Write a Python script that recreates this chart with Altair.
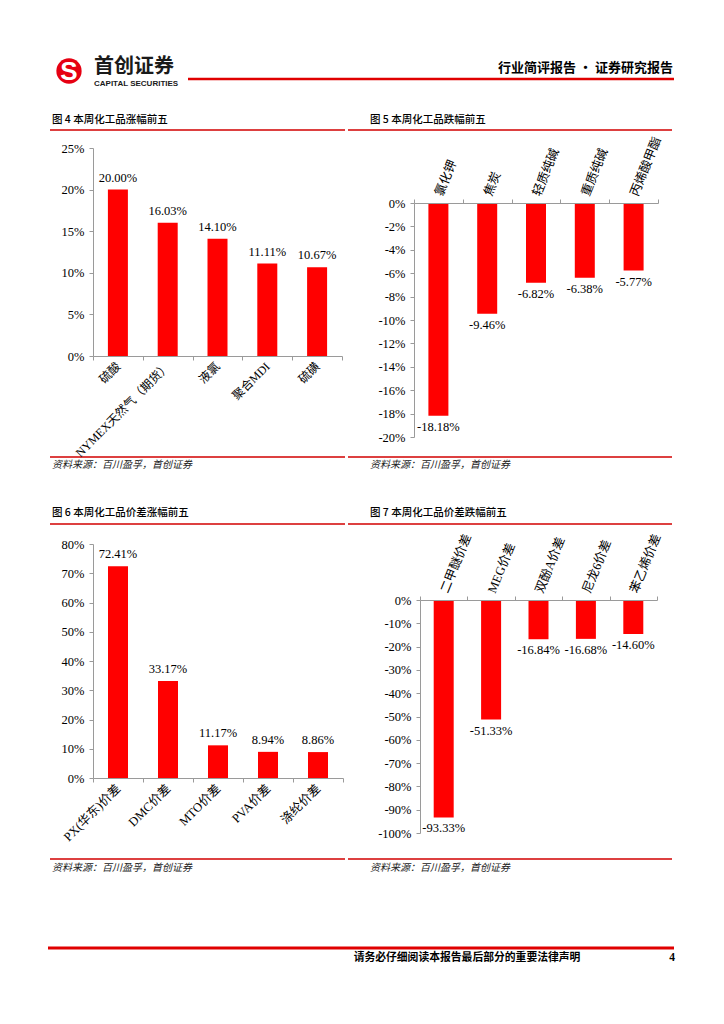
import altair as alt
import pandas as pd

# ---------------- data ----------------
up_cats = ["硫酸", "NYMEX天然气（期货）", "液氯", "聚合MDI", "硫磺"]
up_vals = [20.00, 16.03, 14.10, 11.11, 10.67]
up_ticks = [0, 5, 10, 15, 20, 25]

down_cats = ["氯化钾", "焦炭", "轻质纯碱", "重质纯碱", "丙烯酸甲酯"]
down_vals = [-18.18, -9.46, -6.82, -6.38, -5.77]
down_ticks = [0, -2, -4, -6, -8, -10, -12, -14, -16, -18, -20]

spread_up_cats = ["PX(华东)价差", "DMC价差", "MTO价差", "PVA价差", "涤纶价差"]
spread_up_vals = [72.41, 33.17, 11.17, 8.94, 8.86]
spread_up_ticks = [0, 10, 20, 30, 40, 50, 60, 70, 80]

spread_down_cats = ["二甲醚价差", "MEG价差", "双酚A价差", "尼龙6价差", "苯乙烯价差"]
spread_down_vals = [-93.33, -51.33, -16.84, -16.68, -14.60]
spread_down_ticks = [0, -10, -20, -30, -40, -50, -60, -70, -80, -90, -100]

titles = ["图 4 本周化工品涨幅前五", "图 5 本周化工品跌幅前五",
          "图 6 本周化工品价差涨幅前五", "图 7 本周化工品价差跌幅前五"]
source_text = "资料来源：百川盈孚，首创证券"
header_right = "行业简评报告 · 证券研究报告"
footer_text = "请务必仔细阅读本报告最后部分的重要法律声明"
page_no = "4"

# ---------------- styles ----------------
RED = "#FF0000"
LINE_RED = "#D20000"
AX = "#9A9A9A"
NUM_FONT = "Liberation Serif"
CAT_FONT = "Liberation Serif, Noto Sans CJK SC"
CJK = "Noto Sans CJK SC"

ORIGIN = (93, 148)  # page position of first panel's plot origin


def rel(px, py):
    return px - ORIGIN[0], py - ORIGIN[1]


def one():
    return pd.DataFrame({"k": [0]})


def text_at(txt, px, py, size, font=CJK, weight="normal", align="left",
            color="#000000", style=None):
    x, y = rel(px, py)
    kw = dict(align=align, baseline="middle", fontSize=size, font=font,
              fontWeight=weight, color=color)
    if style:
        kw["fontStyle"] = style
    return alt.Chart(pd.DataFrame({"t": [txt]})).mark_text(**kw).encode(
        x=alt.value(x), y=alt.value(y), text="t:N")


def hline(px1, px2, py, color=LINE_RED, width=1.5):
    x1, y = rel(px1, py)
    x2, _ = rel(px2, py)
    return alt.Chart(one()).mark_rule(color=color, strokeWidth=width).encode(
        x=alt.value(x1), x2=alt.value(x2), y=alt.value(y))


def decorations():
    layers = []
    # anchor for page top-left corner
    ax, ay = rel(8, 8)
    layers.append(alt.Chart(one()).mark_rect(color="white").encode(
        x=alt.value(ax), x2=alt.value(ax + 1), y=alt.value(ay), y2=alt.value(ay + 1)))
    # header logo
    cx, cy = rel(69, 71)
    layers.append(alt.Chart(one()).mark_circle(color="#E60012", opacity=1, size=640).encode(
        x=alt.value(cx), y=alt.value(cy)))
    layers.append(text_at("S", 69, 72, 26, font="Liberation Sans", weight="bold",
                          align="center", color="white"))
    layers.append(text_at("首创证券", 94, 67, 20, weight="bold", color="#1A1A1A"))
    layers.append(text_at("CAPITAL SECURITIES", 94, 84, 8, font="Liberation Sans",
                          weight="bold", color="#1A1A1A"))
    layers.append(hline(188, 674, 79, color="#E00000", width=2.5))
    layers.append(text_at(header_right, 673, 68, 13, weight="bold", align="right"))
    # panel titles, rules, sources
    for (tx, lx1, lx2) in [(52, 50, 345), (370, 348, 672)]:
        for (ty, ly, sy, sly) in [(120, 130, 465, 457), (513, 524, 868, 859)]:
            idx = (0 if ty == 120 else 2) + (0 if tx == 52 else 1)
            layers.append(text_at(titles[idx], tx, ty, 10.5, weight=500))
            layers.append(hline(lx1, lx2, ly))
            layers.append(hline(lx1, lx2, sly))
            layers.append(text_at(source_text, tx, sy, 10, style="italic", color="#222222"))
    # footer
    layers.append(hline(48, 674, 948, color="#E00000", width=3))
    layers.append(text_at(footer_text, 467, 958, 10.8, weight="bold", align="center"))
    layers.append(text_at(page_no, 675, 958, 11.5, font=NUM_FONT, weight="bold", align="right"))
    return layers


def panel(cats, vals, ticks, width, height, top, label_size,
          y_range=None, x_range=None, extra=None):
    df = pd.DataFrame({"cat": cats, "val": vals,
                       "label": [f"{v:.2f}%" for v in vals]})
    xs = dict(domain=cats, paddingInner=0, paddingOuter=0)
    if x_range:
        xs["range"] = x_range
    ys = dict(domain=[min(ticks), max(ticks)], nice=False)
    if y_range:
        ys["range"] = y_range
    xa = dict(title=None, orient="top" if top else "bottom", tickBand="extent",
              labelAngle=292 if top else 315,
              labelAlign="left" if top else "right", labelBaseline="middle",
              labelFont=CAT_FONT, labelFontSize=label_size, labelColor="#000000",
              domainColor=AX, tickColor=AX, tickSize=4, labelPadding=4,
              labelOverlap=False, labelLimit=0, zindex=1)
    if y_range:
        xa["offset"] = -y_range[1]
    ya = dict(title=None, values=ticks, labelExpr="datum.value + '%'", grid=False,
              tickSize=4, labelPadding=5, labelFont=NUM_FONT, labelFontSize=12.5,
              labelColor="#000000", domainColor=AX, tickColor=AX, zindex=1)
    if x_range:
        ya["offset"] = -x_range[0]
    base = alt.Chart(df).encode(
        x=alt.X("cat:N", scale=alt.Scale(**xs), axis=alt.Axis(**xa), sort=cats),
        y=alt.Y("val:Q", scale=alt.Scale(**ys), axis=alt.Axis(**ya)),
    )
    positive = vals[0] > 0
    bars = base.mark_bar(width=20, color=RED)
    labels = base.mark_text(font=NUM_FONT, fontSize=12.5, color="#000000",
                            baseline="bottom" if positive else "top",
                            dy=-5 if positive else 5).encode(text="label:N")
    layers = (extra or []) + [bars, labels]
    return alt.layer(*layers).properties(width=width, height=height)


c4 = panel(up_cats, up_vals, up_ticks, 249, 208, False, 12, extra=decorations())
c5 = panel(down_cats, down_vals, down_ticks, 244, 289, True, 12.5, y_range=[289, 55])
c6 = panel(spread_up_cats, spread_up_vals, spread_up_ticks, 250, 234, False, 12.5)
c7 = panel(spread_down_cats, spread_down_vals, spread_down_ticks, 244, 289, True, 12.5,
           y_range=[289, 56], x_range=[6, 243])

chart = alt.concat(c4, c5, c6, c7, columns=2, spacing={"row": 107, "column": 71},
                   bounds="flush", padding=0, background="white").configure_view(strokeWidth=0)

chart.save("out.html", embed_options={"renderer": "svg", "actions": False})
